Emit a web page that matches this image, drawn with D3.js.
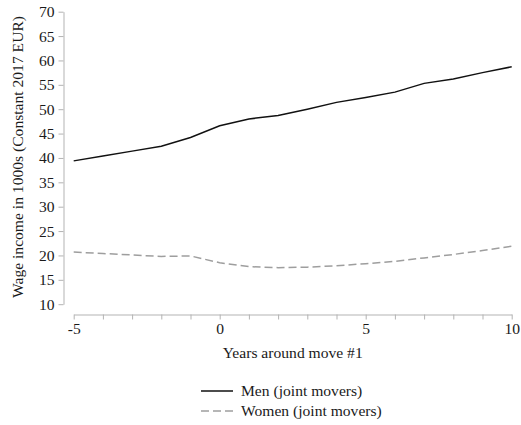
<!DOCTYPE html>
<html>
<head>
<meta charset="utf-8">
<script src="https://cdn.jsdelivr.net/npm/d3@7"></script>
<style>
  html, body { margin: 0; padding: 0; background: #fff; }
  svg { display: block; }
  text { font-family: "Liberation Serif", "Times New Roman", serif; fill: #1a1a1a; }
</style>
</head>
<body>
<svg id="chart" width="521" height="425"></svg>
<script>
// Years relative to the first move
const years = [-5, -4, -3, -2, -1, 0, 1, 2, 3, 4, 5, 6, 7, 8, 9, 10];
// Mean wage income (1000s, constant 2017 EUR)
const menJoint   = [39.4, 40.4, 41.4, 42.4, 44.2, 46.6, 48.0, 48.7, 50.0, 51.4, 52.4, 53.5, 55.3, 56.2, 57.5, 58.7];
const womenJoint = [20.7, 20.4, 20.1, 19.8, 19.9, 18.5, 17.7, 17.5, 17.6, 17.9, 18.3, 18.8, 19.5, 20.2, 21.0, 21.9];
const seriesNames = ["Men (joint movers)", "Women (joint movers)"];
const yTicks = [10, 15, 20, 25, 30, 35, 40, 45, 50, 55, 60, 65, 70];
const xLabelled = [-5, 0, 5, 10];

const fontSize = 15.6;
const svg = d3.select("#chart");

const x = d3.scaleLinear().domain([-5, 10]).range([73.7, 511.7]);
const y = d3.scaleLinear().domain([10, 70]).range([304.2, 11.7]);
const axisColor = "#b3b3b3";

// Y axis, offset to the left of the plotting area
const yAxis = svg.append("g")
  .attr("transform", "translate(63.5,0)")
  .call(d3.axisLeft(y).tickValues(yTicks).tickSize(5).tickSizeOuter(0).tickPadding(4));
yAxis.select(".domain").attr("stroke", axisColor);
yAxis.selectAll(".tick line").attr("stroke", axisColor);
yAxis.selectAll(".tick text")
  .attr("font-size", fontSize)
  .attr("font-family", "Liberation Serif")
  .attr("fill", "#1a1a1a");

// X axis, offset below the plotting area; every year ticked, every fifth labelled
const xAxis = svg.append("g")
  .attr("transform", "translate(0,314.5)")
  .call(d3.axisBottom(x).tickValues(years).tickSize(5).tickSizeOuter(0).tickPadding(3)
    .tickFormat(d => xLabelled.includes(d) ? d3.format("d")(d) : ""));
xAxis.select(".domain").attr("stroke", axisColor);
xAxis.selectAll(".tick line").attr("stroke", axisColor);
xAxis.selectAll(".tick text")
  .attr("font-size", fontSize)
  .attr("font-family", "Liberation Serif")
  .attr("fill", "#1a1a1a")
  .text(function(d) { return xLabelled.includes(d) ? String(d) : ""; });

// Axis titles
svg.append("text")
  .attr("transform", "translate(23,157) rotate(-90)")
  .attr("text-anchor", "middle")
  .attr("font-size", fontSize)
  .text("Wage income in 1000s (Constant 2017 EUR)");

svg.append("text")
  .attr("x", 292.7)
  .attr("y", 357.5)
  .attr("text-anchor", "middle")
  .attr("font-size", fontSize)
  .text("Years around move #1");

// Series lines
const line = d3.line()
  .x((d, i) => x(years[i]))
  .y(d => y(d));

const styles = [
  { stroke: "#111111", dash: null },
  { stroke: "#9e9e9e", dash: "8,4" }
];

[menJoint, womenJoint].forEach((vals, k) => {
  svg.append("path")
    .datum(vals)
    .attr("d", line)
    .attr("fill", "none")
    .attr("stroke", styles[k].stroke)
    .attr("stroke-width", 1.5)
    .attr("stroke-dasharray", styles[k].dash);
});

// Legend
const legend = svg.append("g").attr("transform", "translate(201,391)");
seriesNames.forEach((name, k) => {
  const row = legend.append("g").attr("transform", `translate(0,${k * 20})`);
  row.append("line")
    .attr("x1", 0).attr("x2", 32)
    .attr("y1", 0).attr("y2", 0)
    .attr("stroke", styles[k].stroke)
    .attr("stroke-width", 1.5)
    .attr("stroke-dasharray", styles[k].dash);
  row.append("text")
    .attr("x", 40)
    .attr("y", 5.3)
    .attr("font-size", fontSize)
    .text(name);
});
</script>
</body>
</html>
